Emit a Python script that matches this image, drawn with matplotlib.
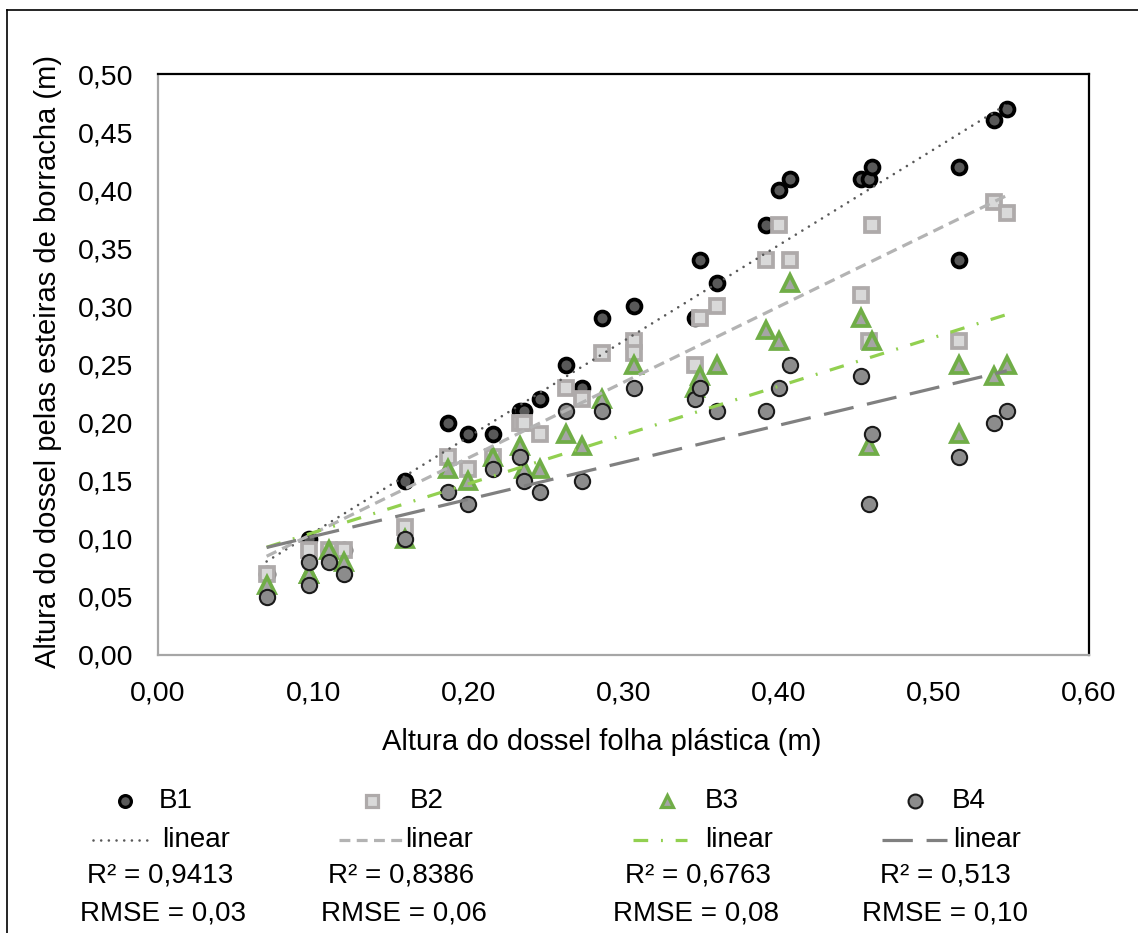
import numpy as np
import matplotlib
matplotlib.use("Agg")
import matplotlib.pyplot as plt
from matplotlib.lines import Line2D
from matplotlib.ticker import FuncFormatter, MultipleLocator

plt.rcParams['font.family'] = ['Liberation Sans', 'DejaVu Sans']

# Canopy height: plastic sheet (x) vs rubber mats (y), four blocks
b1_x = [0.070, 0.097, 0.110, 0.120, 0.159, 0.187, 0.200, 0.216, 0.233, 0.236, 0.246, 0.263, 0.273,
        0.286, 0.307, 0.346, 0.349, 0.360, 0.392, 0.400, 0.407, 0.453, 0.458, 0.460, 0.516, 0.516,
        0.539, 0.547]
b1_y = [0.07, 0.10, 0.09, 0.09, 0.15, 0.20, 0.19, 0.19, 0.21, 0.21, 0.22, 0.25, 0.23,
        0.29, 0.30, 0.29, 0.34, 0.32, 0.37, 0.40, 0.41, 0.41, 0.41, 0.42, 0.42, 0.34,
        0.46, 0.47]

b2_x = [0.070, 0.097, 0.110, 0.120, 0.159, 0.187, 0.200, 0.216, 0.233, 0.236, 0.246, 0.263, 0.273,
        0.286, 0.307, 0.307, 0.346, 0.349, 0.360, 0.392, 0.400, 0.407, 0.453, 0.458, 0.460, 0.516,
        0.539, 0.547]
b2_y = [0.07, 0.09, 0.09, 0.09, 0.11, 0.17, 0.16, 0.17, 0.20, 0.20, 0.19, 0.23, 0.22,
        0.26, 0.27, 0.26, 0.25, 0.29, 0.30, 0.34, 0.37, 0.34, 0.31, 0.27, 0.37, 0.27,
        0.39, 0.38]

b3_x = [0.070, 0.097, 0.097, 0.110, 0.120, 0.159, 0.187, 0.200, 0.216, 0.233, 0.236, 0.246, 0.263,
        0.273, 0.286, 0.307, 0.346, 0.349, 0.360, 0.392, 0.400, 0.407, 0.453, 0.458, 0.460, 0.516,
        0.516, 0.539, 0.547]
b3_y = [0.06, 0.07, 0.07, 0.09, 0.08, 0.10, 0.16, 0.15, 0.17, 0.18, 0.16, 0.16, 0.19,
        0.18, 0.22, 0.25, 0.23, 0.24, 0.25, 0.28, 0.27, 0.32, 0.29, 0.18, 0.27, 0.25,
        0.19, 0.24, 0.25]

b4_x = [0.070, 0.097, 0.097, 0.110, 0.120, 0.159, 0.187, 0.200, 0.216, 0.233, 0.236, 0.246, 0.263,
        0.273, 0.286, 0.307, 0.346, 0.349, 0.360, 0.392, 0.400, 0.407, 0.453, 0.458, 0.460, 0.516,
        0.539, 0.547]
b4_y = [0.05, 0.06, 0.08, 0.08, 0.07, 0.10, 0.14, 0.13, 0.16, 0.17, 0.15, 0.14, 0.21,
        0.15, 0.21, 0.23, 0.22, 0.23, 0.21, 0.21, 0.23, 0.25, 0.24, 0.13, 0.19, 0.17,
        0.20, 0.21]

series_names = ["B1", "B2", "B3", "B4"]
r2_labels = ["R² = 0,9413", "R² = 0,8386", "R² = 0,6763", "R² = 0,513"]
rmse_labels = ["RMSE = 0,03", "RMSE = 0,06", "RMSE = 0,08", "RMSE = 0,10"]

W, H = 1138, 933
fig = plt.figure(figsize=(W / 100, H / 100), dpi=100)


def fx(px):
    return px / W


def fy(py):
    return 1 - py / H


ax = fig.add_axes([fx(158), fy(655), fx(1089) - fx(158), fy(74) - fy(655)])

marker_styles = [
    dict(marker='o', ms=10, mfc='#595959', mec='black', mew=2.7),
    dict(marker='s', ms=10, mfc='#d9d9d9', mec='#aeaaaa', mew=2.7),
    dict(marker='^', ms=11.5, mfc='#a5a5a5', mec='#70ad47', mew=2.7),
    dict(marker='o', ms=11, mfc='#8c8c8c', mec='#1a1a1a', mew=1.5),
]
line_styles = [
    dict(color='#595959', lw=1.9, ls=(0, (0.01, 2.9)), dash_capstyle='round'),
    dict(color='#b3b3b3', lw=2.3, ls=(0, (3.4, 2.0))),
    dict(color='#92d050', lw=2.3, ls=(0, (4.6, 4.0, 0.6, 4.0))),
    dict(color='#808080', lw=2.3, ls=(0, (9.5, 4.3))),
]

data = [(b1_x, b1_y), (b2_x, b2_y), (b3_x, b3_y), (b4_x, b4_y)]
for i, (xs, ys) in enumerate(data):
    ax.plot(xs, ys, ls='none', zorder=3 + i, **marker_styles[i])

for i, (xs, ys) in enumerate(data):
    xs_a = np.asarray(xs)
    slope, icpt = np.polyfit(xs_a, np.asarray(ys), 1)
    xx = np.array([xs_a.min(), xs_a.max()])
    ax.plot(xx, slope * xx + icpt, zorder=10, **line_styles[i])

ax.set_xlim(0, 0.6)
ax.set_ylim(0, 0.5)
ax.xaxis.set_major_locator(MultipleLocator(0.1))
ax.yaxis.set_major_locator(MultipleLocator(0.05))
comma = FuncFormatter(lambda v, p: f"{v:.2f}".replace('.', ','))
ax.xaxis.set_major_formatter(comma)
ax.yaxis.set_major_formatter(comma)
ax.tick_params(axis='both', length=0, labelsize=20.5)
ax.tick_params(axis='y', pad=18)
ax.tick_params(axis='x', pad=18)
for side in ('left', 'bottom'):
    ax.spines[side].set_color('#a6a6a6')
    ax.spines[side].set_linewidth(1.6)
for side in ('top', 'right'):
    ax.spines[side].set_color('black')
    ax.spines[side].set_linewidth(1.6)

fig.text(fx(602), fy(742), "Altura do dossel folha plástica (m)", fontsize=21,
         ha='center', va='center')
fig.text(fx(48), fy(362), "Altura do dossel pelas esteiras de borracha (m)", fontsize=21,
         ha='center', va='center', rotation=90)

# Outer frame of the chart area
fig.add_artist(Line2D([fx(7), fx(7)], [fy(10), 0], transform=fig.transFigure,
                      color='black', lw=1.2))
fig.add_artist(Line2D([fx(7), 1], [fy(10), fy(10)], transform=fig.transFigure,
                      color='black', lw=1.2))

# Legend block: four columns (marker, trend line, R², RMSE)
marker_px = [125, 372, 667, 915]
name_px = [159, 410, 705, 952]
line_px = [(93, 154), (339, 403), (633, 687), (882, 947)]
linear_px = [162, 405, 705, 953]
r2_px = [160, 401, 698, 945]
rmse_px = [163, 404, 696, 945]
legend_marker_sizes = [8.5, 8.5, 9, 10]

for i in range(4):
    ms = dict(marker_styles[i])
    ms['ms'] = legend_marker_sizes[i]
    ms['mew'] = min(ms['mew'], 2.3)
    fig.add_artist(Line2D([fx(marker_px[i])], [fy(801)], transform=fig.transFigure, ls='none', **ms))
    fig.text(fx(name_px[i]), fy(801), series_names[i], fontsize=20, ha='left', va='center')
    x0, x1 = line_px[i]
    fig.add_artist(Line2D([fx(x0), fx(x1)], [fy(840), fy(840)], transform=fig.transFigure,
                          **line_styles[i]))
    fig.text(fx(linear_px[i]), fy(840), "linear", fontsize=20, ha='left', va='center')
    fig.text(fx(r2_px[i]), fy(875), r2_labels[i], fontsize=20, ha='center', va='center')
    fig.text(fx(rmse_px[i]), fy(913), rmse_labels[i], fontsize=20, ha='center', va='center')

fig.savefig("out.png", dpi=100)
